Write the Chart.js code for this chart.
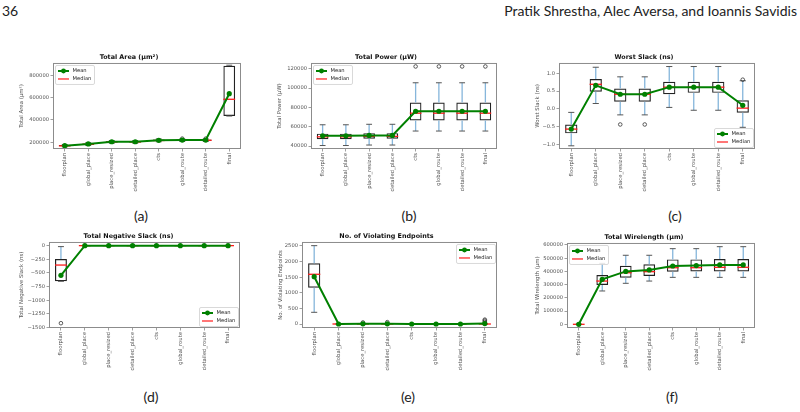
<!DOCTYPE html>
<html>
<head>
<meta charset="utf-8">
<script src="https://cdn.jsdelivr.net/npm/chart.js@4.4.1/dist/chart.umd.min.js"></script>
<style>
  body { margin: 0; width: 800px; height: 412px; background: #fff; position: relative; overflow: hidden; }
  canvas { position: absolute; }
  .txt { position: absolute; color: #222; white-space: nowrap; font-family: Lato, 'Liberation Sans', sans-serif; line-height: 1; }
  .cap { transform: translateX(-50%); font-size: 14px; }
</style>
</head>
<body>
<div class="txt" style="left:2px;top:4px;font-size:14px">36</div>
<div class="txt" style="right:3px;top:4px;font-size:14px">Pratik Shrestha, Alec Aversa, and Ioannis Savidis</div>

<div class="txt cap" style="left:141px;top:209px">(a)</div>
<div class="txt cap" style="left:409px;top:209px">(b)</div>
<div class="txt cap" style="left:675px;top:209px">(c)</div>
<div class="txt cap" style="left:151px;top:390px">(d)</div>
<div class="txt cap" style="left:408px;top:390px">(e)</div>
<div class="txt cap" style="left:672px;top:390px">(f)</div>

<canvas id="chartA"></canvas>
<canvas id="chartB"></canvas>
<canvas id="chartC"></canvas>
<canvas id="chartD"></canvas>
<canvas id="chartE"></canvas>
<canvas id="chartF"></canvas>

<script>
// etapas do fluxo (eixo x de todos os gráficos)
const stages = ['floorplan', 'global_place', 'place_resized', 'detailed_place', 'cts', 'global_route', 'detailed_route', 'final'];

// (a) Total Area
const areaMean   = [170000, 185000, 205000, 205000, 218000, 220000, 220000, 635000];
const areaMedian = [168000, 182000, 203000, 203000, 216000, 218000, 218000, 585000];
const areaQ1     = [165000, 178000, 198000, 198000, 211000, 213000, 213000, 435000];
const areaQ3     = [175000, 190000, 210000, 210000, 224000, 226000, 226000, 885000];
const areaLo     = [160000, 172000, 192000, 192000, 205000, 207000, 207000, 435000];
const areaHi     = [180000, 196000, 216000, 216000, 230000, 230000, 230000, 890000];
const areaFliers = [[5, 233000], [6, 233000]];
const areaTicks  = [200000, 400000, 600000, 800000];

// (b) Total Power
const powerMean   = [50500, 50500, 51000, 51000, 76000, 76000, 76000, 76000];
const powerMedian = [49500, 49500, 50000, 50000, 74000, 74000, 74000, 74000];
const powerQ1     = [47000, 47000, 47500, 47500, 66500, 66500, 66500, 66500];
const powerQ3     = [52800, 52800, 53300, 53300, 85000, 85000, 85000, 85000];
const powerLo     = [40500, 40500, 41000, 41000, 55500, 55500, 55500, 55500];
const powerHi     = [62000, 62000, 62500, 62500, 105500, 105500, 105500, 105500];
const powerFliers = [[4, 122400], [5, 122400], [6, 122400], [7, 122400]];
const powerTicks  = [40000, 60000, 80000, 100000, 120000];

// (c) Worst Slack
const wsMean   = [-0.57, 0.66, 0.41, 0.41, 0.61, 0.61, 0.61, 0.10];
const wsMedian = [-0.57, 0.69, 0.41, 0.41, 0.61, 0.61, 0.61, 0.02];
const wsQ1     = [-0.69, 0.48, 0.20, 0.20, 0.41, 0.45, 0.45, -0.11];
const wsQ3     = [-0.44, 0.84, 0.57, 0.57, 0.76, 0.76, 0.76, 0.24];
const wsLo     = [-1.04, 0.15, -0.17, -0.17, 0.04, -0.04, -0.04, -0.52];
const wsHi     = [-0.10, 1.17, 0.90, 0.90, 1.19, 1.19, 1.19, 0.79];
const wsFliers = [[2, -0.44], [3, -0.44], [7, 0.82]];
const wsTicks  = [-1.0, -0.5, 0.0, 0.5, 1.0];

// (d) Total Negative Slack
const tnsMean   = [-545, 0, 0, 0, 0, 0, 0, 0];
const tnsMedian = [-356, 0, 0, 0, 0, 0, 0, 0];
const tnsQ1     = [-654, 0, 0, 0, 0, 0, 0, 0];
const tnsQ3     = [-247, 0, 0, 0, 0, 0, 0, 0];
const tnsLo     = [-654, 0, 0, 0, 0, 0, 0, 0];
const tnsHi     = [-18, 0, 0, 0, 0, 0, 0, 0];
const tnsFliers = [[0, -1422]];
const tnsTicks  = [-1500, -1250, -1000, -750, -500, -250, 0];

// (e) No. of Violating Endpoints
const vioMean   = [1516, 0, 5, 6, 0, 0, 0, 15];
const vioMedian = [1593, 0, 0, 0, 0, 0, 0, 0];
const vioQ1     = [1163, 0, 0, 0, 0, 0, 0, 0];
const vioQ3     = [1945, 0, 0, 0, 0, 0, 0, 0];
const vioLo     = [375, 0, 0, 0, 0, 0, 0, 0];
const vioHi     = [2510, 0, 0, 0, 0, 0, 0, 0];
const vioFliers = [[2, 50], [3, 60], [7, 70], [7, 110], [7, 140]];
const vioTicks  = [0, 500, 1000, 1500, 2000, 2500];

// (f) Total Wirelength
const wlMean   = [0, 340000, 400000, 411000, 441000, 444000, 449000, 449000];
const wlMedian = [0, 327000, 390000, 398000, 428000, 428000, 431000, 431000];
const wlQ1     = [0, 297000, 352000, 365000, 398000, 400000, 400000, 400000];
const wlQ3     = [0, 373000, 443000, 454000, 491000, 491000, 494000, 494000];
const wlLo     = [0, 252000, 310000, 327000, 355000, 355000, 355000, 355000];
const wlHi     = [0, 461000, 522000, 522000, 572000, 572000, 587000, 587000];
const wlFliers = [];
const wlTicks  = [0, 100000, 200000, 300000, 400000, 500000, 600000];

Chart.defaults.font.family = 'DejaVu Sans';

const plainNum = v => String(v).replace('-', '\u2212');
const oneDec = v => v.toFixed(1).replace('-', '\u2212');

// bigodes, mediana, outliers e legenda do boxplot
const boxPlugin = {
  id: 'boxplot',
  afterDatasetDraw(chart, args, opts) {
    if (args.index !== 0) return;
    const ctx = chart.ctx;
    const y = chart.scales.y;
    ctx.save();
    args.meta.data.forEach((bar, i) => {
      const x = bar.x, hw = bar.width / 2;
      const pLo = y.getPixelForValue(opts.lo[i]), pHi = y.getPixelForValue(opts.hi[i]);
      const pQ1 = y.getPixelForValue(opts.q1[i]), pQ3 = y.getPixelForValue(opts.q3[i]);
      // bigodes
      ctx.strokeStyle = '#86b6db';
      ctx.lineWidth = 1.3;
      ctx.beginPath();
      ctx.moveTo(x, pQ1); ctx.lineTo(x, pLo);
      ctx.moveTo(x, pQ3); ctx.lineTo(x, pHi);
      ctx.stroke();
      // tampas
      ctx.strokeStyle = '#555';
      ctx.lineWidth = 1;
      ctx.beginPath();
      ctx.moveTo(x - hw / 2, pLo); ctx.lineTo(x + hw / 2, pLo);
      ctx.moveTo(x - hw / 2, pHi); ctx.lineTo(x + hw / 2, pHi);
      ctx.stroke();
      // mediana
      const pMed = y.getPixelForValue(opts.median[i]);
      ctx.strokeStyle = '#ff1a1a';
      ctx.lineWidth = 1.3;
      ctx.beginPath();
      ctx.moveTo(x - hw, pMed); ctx.lineTo(x + hw, pMed);
      ctx.stroke();
    });
    // outliers
    ctx.strokeStyle = '#333';
    ctx.lineWidth = 0.8;
    opts.fliers.forEach(([i, v]) => {
      const bar = args.meta.data[i];
      ctx.beginPath();
      ctx.arc(bar.x, y.getPixelForValue(v), 1.8, 0, Math.PI * 2);
      ctx.stroke();
    });
    ctx.restore();
  },
  afterDraw(chart, args, opts) {
    const a = chart.chartArea, ctx = chart.ctx;
    ctx.save();
    ctx.strokeStyle = '#8c8c8c';
    ctx.lineWidth = 1;
    ctx.strokeRect(a.left + 0.5, a.top + 0.5, a.right - a.left - 1, a.bottom - a.top - 1);

    // legenda estilo matplotlib
    const lw = 39, lh = 19;
    const lx = opts.legend[1] === 'l' ? a.left + 2 : a.right - 2 - lw;
    const ly = opts.legend[0] === 'u' ? a.top + 2 : a.bottom - 2 - lh;
    ctx.fillStyle = 'rgba(255,255,255,0.85)';
    ctx.strokeStyle = '#cfcfcf';
    ctx.lineWidth = 0.8;
    ctx.beginPath();
    ctx.roundRect(lx + 0.5, ly + 0.5, lw, lh, 1.5);
    ctx.fill();
    ctx.stroke();

    ctx.strokeStyle = '#008000';
    ctx.lineWidth = 2;
    ctx.beginPath();
    ctx.moveTo(lx + 3, ly + 6); ctx.lineTo(lx + 14, ly + 6);
    ctx.stroke();
    ctx.fillStyle = '#008000';
    ctx.beginPath();
    ctx.arc(lx + 8.5, ly + 6, 2.4, 0, Math.PI * 2);
    ctx.fill();

    ctx.strokeStyle = '#ff1a1a';
    ctx.lineWidth = 1.2;
    ctx.beginPath();
    ctx.moveTo(lx + 3, ly + 14); ctx.lineTo(lx + 14, ly + 14);
    ctx.stroke();

    ctx.fillStyle = '#222';
    ctx.font = '5.2px "DejaVu Sans"';
    ctx.textBaseline = 'middle';
    ctx.fillText('Mean', lx + 17.5, ly + 6);
    ctx.fillText('Median', lx + 17.5, ly + 14);
    ctx.restore();
  }
};

function boxChart(id, p) {
  const [L, T, R, B] = p.area;
  const cl = Math.round(p.titleX - 4);
  const ct = T - 12;
  const cv = document.getElementById(id);
  cv.width = R + 6 - cl;
  cv.height = B + 54 - ct;
  cv.style.left = cl + 'px';
  cv.style.top = ct + 'px';

  const tickGrid = { offset: false, drawOnChartArea: false, tickLength: 2.5, color: '#888', lineWidth: 0.8 };

  return new Chart(cv, {
    type: 'bar',
    data: {
      labels: stages,
      datasets: [
        {
          label: 'box',
          data: p.q1.map((v, i) => [v, p.q3[i]]),
          backgroundColor: 'rgba(0,0,0,0)',
          borderColor: '#222',
          borderWidth: 1.2,
          borderSkipped: false,
          barPercentage: 0.5,
          categoryPercentage: 1,
          order: 2
        },
        {
          type: 'line',
          label: 'Mean',
          data: p.mean,
          borderColor: '#008000',
          backgroundColor: '#008000',
          borderWidth: 2,
          pointRadius: 2.6,
          pointBorderWidth: 0,
          order: 1
        }
      ]
    },
    options: {
      responsive: false,
      animation: false,
      layout: { padding: { right: 6 } },
      plugins: {
        legend: { display: false },
        tooltip: { enabled: false },
        title: {
          display: true,
          text: p.title,
          color: '#111',
          font: { size: 6.4, weight: 'bold' },
          padding: { top: 2.3, bottom: 2 }
        },
        boxplot: { q1: p.q1, q3: p.q3, lo: p.lo, hi: p.hi, median: p.median, fliers: p.fliers, legend: p.legend }
      },
      scales: {
        x: {
          grid: tickGrid,
          border: { display: false },
          ticks: { minRotation: 90, maxRotation: 90, autoSkip: false, padding: 1.5, color: '#555', font: { size: 5.3 } },
          afterFit: s => { s.height = 54; }
        },
        y: {
          min: p.min,
          max: p.max,
          afterBuildTicks: s => { s.ticks = p.ticks.map(v => ({ value: v })); },
          grid: tickGrid,
          border: { display: false },
          ticks: { callback: p.fmt, padding: 1.5, color: '#555', font: { size: 5.2 } },
          title: { display: true, text: p.yTitle, color: '#555', font: { size: 5.4 }, padding: { top: 1, bottom: 0 } },
          afterFit: s => { s.width = L - cl; }
        }
      }
    },
    plugins: [boxPlugin]
  });
}

boxChart('chartA', {
  title: 'Total Area (\u00b5m\u00b2)', yTitle: 'Total Area (\u00b5m\u00b2)',
  mean: areaMean, median: areaMedian, q1: areaQ1, q3: areaQ3, lo: areaLo, hi: areaHi, fliers: areaFliers,
  min: 140000, max: 910000, ticks: areaTicks, fmt: plainNum,
  area: [53, 63, 241, 149], titleX: 21, legend: 'ul'
});

boxChart('chartB', {
  title: 'Total Power (\u00b5W)', yTitle: 'Total Power (\u00b5W)',
  mean: powerMean, median: powerMedian, q1: powerQ1, q3: powerQ3, lo: powerLo, hi: powerHi, fliers: powerFliers,
  min: 36900, max: 126000, ticks: powerTicks, fmt: plainNum,
  area: [311, 63, 497, 149], titleX: 279, legend: 'ul'
});

boxChart('chartC', {
  title: 'Worst Slack (ns)', yTitle: 'Worst Slack (ns)',
  mean: wsMean, median: wsMedian, q1: wsQ1, q3: wsQ3, lo: wsLo, hi: wsHi, fliers: wsFliers,
  min: -1.13, max: 1.29, ticks: wsTicks, fmt: oneDec,
  area: [559, 63, 755, 149], titleX: 537, legend: 'lr'
});

boxChart('chartD', {
  title: 'Total Negative Slack (ns)', yTitle: 'Total Negative Slack (ns)',
  mean: tnsMean, median: tnsMedian, q1: tnsQ1, q3: tnsQ3, lo: tnsLo, hi: tnsHi, fliers: tnsFliers,
  min: -1510, max: 67, ticks: tnsTicks, fmt: plainNum,
  area: [49, 242, 240, 328], titleX: 21, legend: 'lr'
});

boxChart('chartE', {
  title: 'No. of Violating Endpoints', yTitle: 'No. of Violating Endpoints',
  mean: vioMean, median: vioMedian, q1: vioQ1, q3: vioQ3, lo: vioLo, hi: vioHi, fliers: vioFliers,
  min: -128, max: 2628, ticks: vioTicks, fmt: plainNum,
  area: [302, 242, 497, 328], titleX: 280, legend: 'ur'
});

boxChart('chartF', {
  title: 'Total Wirelength (\u00b5m)', yTitle: 'Total Wirelength (\u00b5m)',
  mean: wlMean, median: wlMedian, q1: wlQ1, q3: wlQ3, lo: wlLo, hi: wlHi, fliers: wlFliers,
  min: -28000, max: 615000, ticks: wlTicks, fmt: plainNum,
  area: [567, 243, 755, 328], titleX: 537, legend: 'ul'
});
</script>
</body>
</html>
